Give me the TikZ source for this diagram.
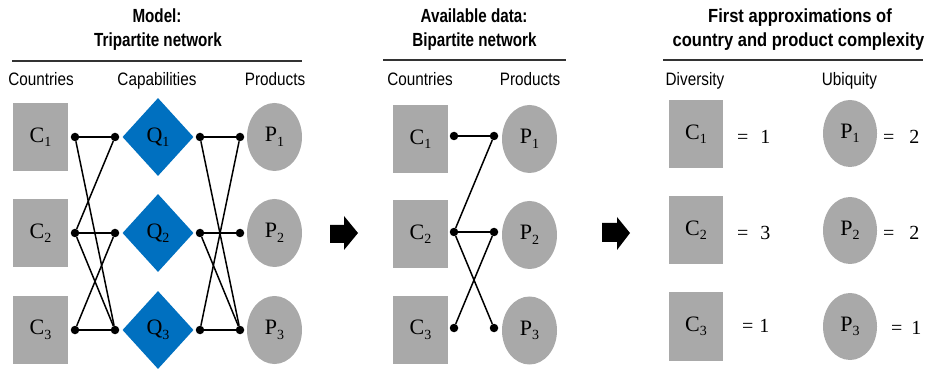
\documentclass[tikz,border=0pt]{standalone}
\usepackage{fontspec}
\setmainfont{Liberation Serif}
\newfontfamily\tsans{Liberation Sans}[FakeStretch=0.8]
\newfontfamily\tsanswide{Liberation Sans}[FakeStretch=0.87]
\newfontfamily\lsans{Liberation Sans}[FakeStretch=0.85]
\usetikzlibrary{shapes.geometric}
\definecolor{boxgray}{HTML}{A9A9A9}
\definecolor{qblue}{HTML}{0070C0}
\definecolor{rulegray}{HTML}{333333}
\newcommand\lab[2]{#1\raisebox{-4.5pt}{\fontsize{14}{14}\selectfont #2}}
\tikzset{
  ctry/.style={rectangle, fill=boxgray, minimum width=55pt, minimum height=68pt, inner sep=0pt, font=\fontsize{22}{26}\selectfont},
  prod/.style={ellipse, fill=boxgray, minimum width=55pt, minimum height=68pt, inner sep=0pt, font=\fontsize{22}{26}\selectfont},
  capb/.style={diamond, fill=qblue, minimum width=71pt, minimum height=78pt, inner sep=0pt, font=\fontsize{22}{26}\selectfont},
  dotn/.style={circle, fill=black, minimum size=8.5pt, inner sep=0pt},
  link/.style={line width=1.5pt, black},
  ttl/.style={anchor=base, font=\tsans\bfseries\fontsize{19}{22}\selectfont},
  ttlw/.style={anchor=base, font=\tsanswide\bfseries\fontsize{19}{22}\selectfont},
  colh/.style={anchor=base, font=\lsans\fontsize{18}{21}\selectfont},
  eqt/.style={anchor=west, font=\fontsize{20}{24}\selectfont, inner sep=0pt},
  hrule/.style={line width=1.5pt, rulegray},
  bigarrow/.style={fill=black}
}
\begin{document}
\begin{tikzpicture}[x=1pt,y=-1pt]
\useasboundingbox (0,0) rectangle (926,371);

% ---------- Panel 1 ----------
\node[ttl] (t1a) at (157,23) {Model:};
\node[ttl] (t1b) at (158,47) {Tripartite network};
\coordinate (r1a) at (12,61); \coordinate (r1b) at (302,61);
\draw[hrule] (r1a) -- (r1b);
\node[colh] (h1a) at (41,86) {Countries};
\node[colh] (h1b) at (157,86) {Capabilities};
\node[colh] (h1c) at (275,86) {Products};

\foreach \i/\y in {1/137,2/233,3/330}{
  \node[ctry] (C\i) at (40.5,\y) {\lab{C}{\i}};
  \node[capb] (Q\i) at (158,\y) {\lab{Q}{\i}};
  \node[prod] (P\i) at (274.5,\y) {\lab{P}{\i}};
  \node[dotn] (L\i) at (75,\y) {};
  \node[dotn] (M\i) at (115,\y) {};
  \node[dotn] (N\i) at (200,\y) {};
  \node[dotn] (R\i) at (240,\y) {};
}
\draw[link] (L1) -- (M1);
\draw[link] (L1) -- (M3);
\draw[link] (L2) -- (M1);
\draw[link] (L2) -- (M2);
\draw[link] (L2) -- (M3);
\draw[link] (L3) -- (M2);
\draw[link] (L3) -- (M3);
\draw[link] (N1) -- (R1);
\draw[link] (N1) -- (R3);
\draw[link] (N2) -- (R2);
\draw[link] (N2) -- (R3);
\draw[link] (N3) -- (R3);
\draw[link] (N3) -- (R1);

% arrow 1
\fill[bigarrow] (330,225) -- (344,225) -- (344,216) -- (358,233) -- (344,250) -- (344,243) -- (330,243) -- cycle;

% ---------- Panel 2 ----------
\node[ttl] (t2a) at (474,23) {Available data:};
\node[ttl] (t2b) at (474.5,47) {Bipartite network};
\coordinate (r2a) at (383,60); \coordinate (r2b) at (566,60);
\draw[hrule] (r2a) -- (r2b);
\node[colh] (h2a) at (420,86) {Countries};
\node[colh] (h2b) at (530,86) {Products};

\node[ctry] (D1) at (420.5,139) {\lab{C}{1}};
\node[ctry] (D2) at (420.5,234) {\lab{C}{2}};
\node[ctry] (D3) at (420.5,330) {\lab{C}{3}};
\node[prod] (E1) at (529.5,139) {\lab{P}{1}};
\node[prod] (E2) at (529.5,235) {\lab{P}{2}};
\node[prod] (E3) at (529.5,330.5) {\lab{P}{3}};
\foreach \i/\y in {1/136,2/232,3/328}{
  \node[dotn] (A\i) at (454,\y) {};
  \node[dotn] (B\i) at (494,\y) {};
}
\draw[link] (A1) -- (B1);
\draw[link] (A2) -- (B1);
\draw[link] (A2) -- (B2);
\draw[link] (A2) -- (B3);
\draw[link] (A3) -- (B2);

% arrow 2
\fill[bigarrow] (602,223) -- (617,223) -- (617,217) -- (630,233) -- (617,250) -- (617,242) -- (602,242) -- cycle;

% ---------- Panel 3 ----------
\node[ttlw] (t3a) at (800,23) {First approximations of};
\node[ttlw] (t3b) at (798.5,47) {country and product complexity};
\coordinate (r3a) at (663,60); \coordinate (r3b) at (923,60);
\draw[hrule] (r3a) -- (r3b);
\node[colh] (h3a) at (695,86) {Diversity};
\node[colh] (h3b) at (849.5,86) {Ubiquity};

\node[ctry, minimum width=54pt] (F1) at (696,134) {\lab{C}{1}};
\node[ctry, minimum width=54pt] (F2) at (696,230) {\lab{C}{2}};
\node[ctry, minimum width=54pt] (F3) at (696,326.5) {\lab{C}{3}};
\node[prod, minimum width=54pt, minimum height=67pt] (G1) at (850,133.5) {\lab{P}{1}};
\node[prod, minimum width=54pt, minimum height=67pt] (G2) at (850,230.5) {\lab{P}{2}};
\node[prod, minimum width=54pt, minimum height=67pt] (G3) at (850,326.5) {\lab{P}{3}};

\node[eqt] (e1) at (737,137) {=\hspace{12pt}1};
\node[eqt] (e2) at (737,233) {=\hspace{12pt}3};
\node[eqt] (e3) at (742,326) {=\hspace{6pt}1};
\node[eqt] (e4) at (883,137) {=\hspace{15pt}2};
\node[eqt] (e5) at (883,233) {=\hspace{15pt}2};
\node[eqt] (e6) at (891,328) {=\hspace{9pt}1};
\end{tikzpicture}
\end{document}
